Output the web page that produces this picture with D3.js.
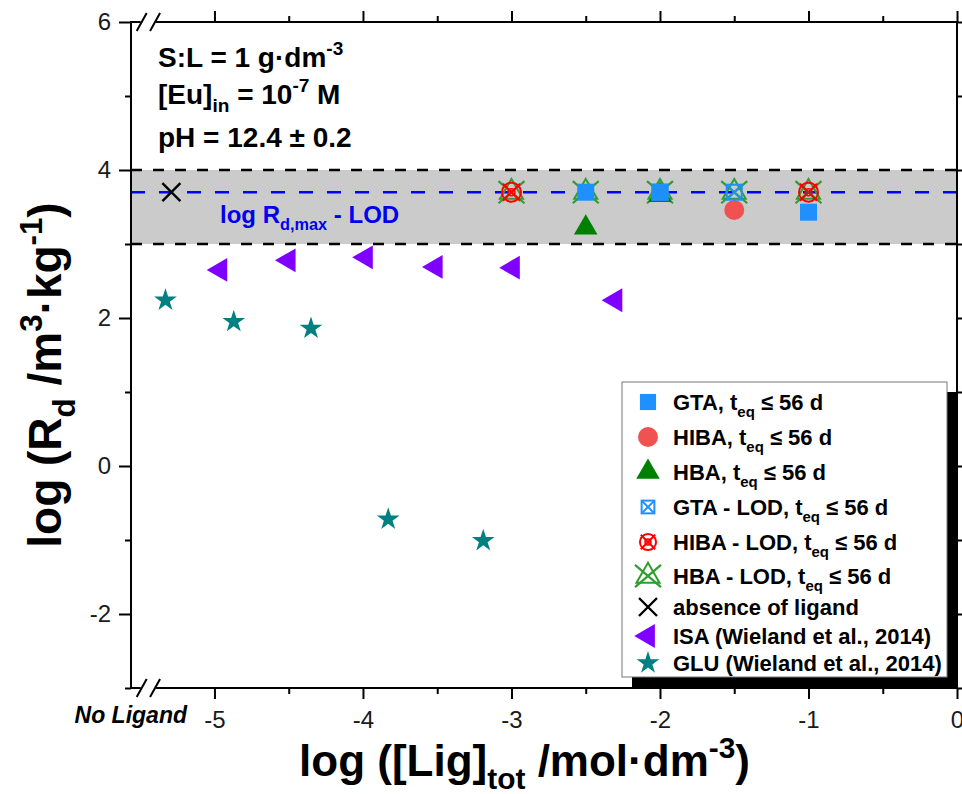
<!DOCTYPE html>
<html>
<head>
<meta charset="utf-8">
<script src="https://cdn.jsdelivr.net/npm/d3@7/dist/d3.min.js"></script>
<style>
  html, body { margin: 0; padding: 0; background: #fff; }
  svg { display: block; }
</style>
</head>
<body>
<svg id="chart" width="962" height="794"></svg>
<script>
// ---- data -------------------------------------------------------------
const xTicksMajor = [-5, -4, -3, -2, -1, 0];
const xTicksMinor = [-4.5, -3.5, -2.5, -1.5, -0.5];
const yTicksMajor = [6, 4, 2, 0, -2];
const yTicksMinor = [5, 3, 1, -1, -3];
const noLigandLabel = "No Ligand";

// LOD band limits and log Rd,max - LOD
const bandLow = 3.0, bandHigh = 4.0, rdMaxLod = 3.70;

// Eu sorption, t_eq <= 56 d
const gtaX = [-2.5, -2, -1];            const gtaY = [3.70, 3.70, 3.43];
const hibaX = [-1.5];                   const hibaY = [3.46];
const hbaX = [-2.5, -2];                const hbaY = [3.22, 3.66];
const gtaLodX = [-2, -1.5];             const gtaLodY = [3.70, 3.70];
const hibaLodX = [-3, -1];              const hibaLodY = [3.70, 3.70];
const hbaLodX = [-3, -2.5, -2, -1.5, -1]; const hbaLodY = [3.70, 3.70, 3.70, 3.70, 3.70];
const noLigandX = [-5.29];              const noLigandY = [3.70];
// Wieland et al., 2014
const isaX = [-4.96, -4.50, -3.98, -3.51, -2.99, -2.30];
const isaY = [2.65, 2.78, 2.82, 2.69, 2.68, 2.24];
const gluX = [-5.33, -4.87, -4.35, -3.83, -3.19];
const gluY = [2.24, 1.95, 1.86, -0.72, -1.01];

const legendLabels = [
  [["GTA, t"], ["eq", "sub"], [" \u2264 56 d"]],
  [["HIBA, t"], ["eq", "sub"], [" \u2264 56 d"]],
  [["HBA, t"], ["eq", "sub"], [" \u2264 56 d"]],
  [["GTA - LOD, t"], ["eq", "sub"], [" \u2264 56 d"]],
  [["HIBA - LOD, t"], ["eq", "sub"], [" \u2264 56 d"]],
  [["HBA - LOD, t"], ["eq", "sub"], [" \u2264 56 d"]],
  [["absence of ligand"]],
  [["ISA (Wieland et al., 2014)"]],
  [["GLU (Wieland et al., 2014)"]]
];

// ---- setup ------------------------------------------------------------
const FONT = "'Liberation Sans', Arial, Helvetica, sans-serif";
const svg = d3.select("#chart");
const P = { left: 131, right: 957, top: 22, bottom: 688 };
const x = d3.scaleLinear().domain([-5.562, 0]).range([P.left, P.right]);
const y = d3.scaleLinear().domain([-3, 6]).range([P.bottom, P.top]);

const C = {
  gta: "#1E90FF", hiba: "#F05252", hba: "#008000",
  gtaLod: "#1E90FF", hibaLod: "#FF0000", hbaLod: "#2E9E2E",
  none: "#000000", isa: "#8000FF", glu: "#008080"
};

// rich text with sub/superscripts
function rich(sel, parts, fs) {
  let shift = 0;
  parts.forEach(([t, kind]) => {
    const target = kind === "sub" ? fs * 0.30 : kind === "sup" ? -fs * 0.42 : 0;
    sel.append("tspan")
      .attr("dy", target - shift)
      .attr("font-size", kind ? fs * 0.68 : fs)
      .text(t);
    shift = target;
  });
}

// ---- background band & reference lines ----------------------------------
const plot = svg.append("g");
plot.append("rect")
  .attr("x", P.left).attr("y", y(bandHigh))
  .attr("width", P.right - P.left).attr("height", y(bandLow) - y(bandHigh))
  .attr("fill", "#CBCBCB");
[bandHigh, bandLow].forEach(v => {
  plot.append("line")
    .attr("x1", P.left).attr("x2", P.right)
    .attr("y1", y(v)).attr("y2", y(v))
    .attr("stroke", "#000").attr("stroke-width", 2.6)
    .attr("stroke-dasharray", "11,11");
});
plot.append("line")
  .attr("x1", P.left).attr("x2", P.right)
  .attr("y1", y(rdMaxLod)).attr("y2", y(rdMaxLod))
  .attr("stroke", "#0000FF").attr("stroke-width", 2.6)
  .attr("stroke-dasharray", "14,14");

svg.append("text")
  .attr("x", 220).attr("y", 223)
  .attr("font-family", FONT).attr("font-weight", "bold")
  .attr("fill", "#0000EE")
  .call(rich, [["log R"], ["d,max", "sub"], [" - LOD"]], 24);

// ---- markers ----------------------------------------------------------
function marker(g, kind, cx, cy, k = 1) {
  const t = g.append("g").attr("transform", `translate(${cx},${cy})`);
  switch (kind) {
    case "gta":
      t.append("path").attr("d", d3.symbol(d3.symbolSquare, 289 * k * k)()).attr("fill", C.gta);
      break;
    case "hiba":
      t.append("circle").attr("r", 10 * k).attr("fill", C.hiba);
      break;
    case "hba":
      t.append("path").attr("d", d3.symbol(d3.symbolTriangle, 240 * k * k)()).attr("fill", C.hba);
      break;
    case "gtaLod": {
      const h = 7.5 * k;
      t.append("rect").attr("x", -h).attr("y", -h).attr("width", 2 * h).attr("height", 2 * h)
        .attr("fill", "#fff").attr("fill-opacity", k < 1 ? 1 : 0)
        .attr("stroke", C.gtaLod).attr("stroke-width", 2);
      t.append("path").attr("d", `M${-h},${-h}L${h},${h}M${-h},${h}L${h},${-h}`)
        .attr("stroke", C.gtaLod).attr("stroke-width", 2);
      break;
    }
    case "hibaLod": {
      const r = 9.5 * k, a = 8.5 * k;
      t.append("circle").attr("r", r).attr("fill", "none").attr("stroke", C.hibaLod).attr("stroke-width", 2);
      t.append("circle").attr("r", 3.5 * k).attr("fill", "none").attr("stroke", C.hibaLod).attr("stroke-width", 1.6);
      t.append("path").attr("d", `M${-a},${-a}L${a},${a}M${-a},${a}L${a},${-a}`)
        .attr("stroke", C.hibaLod).attr("stroke-width", 2);
      break;
    }
    case "hbaLod": {
      const s = 13 * k;
      t.append("path").attr("d", d3.symbol(d3.symbolTriangle, 230 * k * k)())
        .attr("fill", "none").attr("stroke", C.hbaLod).attr("stroke-width", 2);
      t.append("path").attr("d", `M${-s},${-s * 0.85}L${s},${s * 0.85}M${-s},${s * 0.85}L${s},${-s * 0.85}`)
        .attr("stroke", C.hbaLod).attr("stroke-width", 2.2);
      break;
    }
    case "none": {
      const a = 9 * k;
      t.append("path").attr("d", `M${-a},${-a}L${a},${a}M${-a},${a}L${a},${-a}`)
        .attr("stroke", C.none).attr("stroke-width", 2.4);
      break;
    }
    case "isa":
      t.append("path").attr("d", d3.symbol(d3.symbolTriangle, 245 * k * k)())
        .attr("transform", "rotate(-90)").attr("fill", C.isa);
      break;
    case "glu":
      t.append("path").attr("d", d3.symbol(d3.symbolStar, 160 * k * k)()).attr("fill", C.glu);
      break;
  }
}

const series = [
  ["hbaLod", hbaLodX, hbaLodY],
  ["hba", hbaX, hbaY],
  ["gta", gtaX, gtaY],
  ["hiba", hibaX, hibaY],
  ["gtaLod", gtaLodX, gtaLodY],
  ["hibaLod", hibaLodX, hibaLodY],
  ["none", noLigandX, noLigandY],
  ["isa", isaX, isaY],
  ["glu", gluX, gluY]
];
const marks = svg.append("g");
series.forEach(([kind, xs, ys]) => {
  xs.forEach((xv, i) => marker(marks, kind, x(xv), y(ys[i])));
});

// ---- axes -------------------------------------------------------------
const axes = svg.append("g").attr("font-family", FONT);
const breakA = x(-5.49), breakB = x(-5.40);

function styleTicks(sel) {
  sel.select(".domain").remove();
  sel.selectAll(".tick line").attr("stroke", "#000").attr("stroke-width", 2);
  sel.selectAll(".tick text").attr("font-size", 24).attr("fill", "#1a1a1a").attr("font-family", FONT);
}
const minus = d => d < 0 ? "-" + Math.abs(d) : String(d);

// bottom
axes.append("g").attr("transform", `translate(0,${P.bottom})`)
  .call(d3.axisBottom(x).tickValues(xTicksMajor).tickSize(11).tickPadding(12).tickFormat(minus))
  .call(styleTicks);
axes.append("g").attr("transform", `translate(0,${P.bottom})`)
  .call(d3.axisBottom(x).tickValues(xTicksMinor).tickSize(6).tickFormat(""))
  .call(styleTicks);

// top
axes.append("g").attr("transform", `translate(0,${P.top})`)
  .call(d3.axisTop(x).tickValues(xTicksMajor).tickSize(11).tickFormat(""))
  .call(styleTicks);
axes.append("g").attr("transform", `translate(0,${P.top})`)
  .call(d3.axisTop(x).tickValues(xTicksMinor).tickSize(6).tickFormat(""))
  .call(styleTicks);

// left
axes.append("g").attr("transform", `translate(${P.left},0)`)
  .call(d3.axisLeft(y).tickValues(yTicksMajor).tickSize(12).tickPadding(8).tickFormat(minus))
  .call(styleTicks);
axes.append("g").attr("transform", `translate(${P.left},0)`)
  .call(d3.axisLeft(y).tickValues(yTicksMinor).tickSize(6).tickFormat(""))
  .call(styleTicks);

// right
axes.append("g").attr("transform", `translate(${P.right},0)`)
  .call(d3.axisRight(y).tickValues(yTicksMajor).tickSize(11).tickFormat(""))
  .call(styleTicks);
axes.append("g").attr("transform", `translate(${P.right},0)`)
  .call(d3.axisRight(y).tickValues(yTicksMinor).tickSize(6).tickFormat(""))
  .call(styleTicks);

// frame with axis breaks on top and bottom
const frame = d3.path();
[P.top, P.bottom].forEach(yy => {
  frame.moveTo(P.left - 1, yy); frame.lineTo(breakA - 1, yy);
  frame.moveTo(breakB + 1, yy); frame.lineTo(P.right + 1, yy);
});
frame.moveTo(P.left, P.top); frame.lineTo(P.left, P.bottom);
frame.moveTo(P.right, P.top); frame.lineTo(P.right, P.bottom);
axes.append("path").attr("d", frame.toString()).attr("fill", "none").attr("stroke", "#000").attr("stroke-width", 2);
const slashes = d3.path();
[P.top, P.bottom].forEach(yy => {
  [breakA, breakB].forEach(bx => {
    slashes.moveTo(bx - 5, yy + 9); slashes.lineTo(bx + 5, yy - 9);
  });
});
axes.append("path").attr("d", slashes.toString()).attr("fill", "none").attr("stroke", "#000").attr("stroke-width", 2);

axes.append("text")
  .attr("x", 187).attr("y", 723).attr("text-anchor", "end")
  .attr("font-size", 23).attr("font-weight", "bold").attr("font-style", "italic")
  .attr("fill", "#000").text(noLigandLabel);

// axis titles
svg.append("text")
  .attr("x", 750).attr("y", 776).attr("text-anchor", "end")
  .attr("font-family", FONT).attr("font-weight", "bold").attr("fill", "#000")
  .call(rich, [["log ([Lig]"], ["tot", "sub"], [" /mol\u00B7dm"], ["-3", "sup"], [")"]], 44);

svg.append("text")
  .attr("transform", "translate(61,375) rotate(-90)").attr("text-anchor", "middle")
  .attr("font-family", FONT).attr("font-weight", "bold").attr("fill", "#000")
  .call(rich, [["log (R"], ["d", "sub"], [" /m"], ["3", "sup"], ["\u00B7kg"], ["-1", "sup"], [")"]], 46);

// conditions
const cond = svg.append("g").attr("font-family", FONT).attr("font-weight", "bold").attr("fill", "#000");
cond.append("text").attr("x", 158).attr("y", 67).call(rich, [["S:L = 1 g\u00B7dm"], ["-3", "sup"]], 28);
cond.append("text").attr("x", 158).attr("y", 104).call(rich, [["[Eu]"], ["in", "sub"], [" = 10"], ["-7", "sup"], [" M"]], 28);
cond.append("text").attr("x", 158).attr("y", 147).call(rich, [["pH = 12.4 \u00B1 0.2"]], 28);

// ---- legend -----------------------------------------------------------
const L = { x: 622, y: 382, w: 325, h: 295, shadow: 10 };
const leg = svg.append("g");
leg.append("rect").attr("x", L.x + L.shadow).attr("y", L.y + L.shadow)
  .attr("width", L.w).attr("height", L.h).attr("fill", "#000");
leg.append("rect").attr("x", L.x).attr("y", L.y).attr("width", L.w).attr("height", L.h)
  .attr("fill", "#fff").attr("stroke", "#777").attr("stroke-width", 1);
const rowY = [402, 437, 472, 507, 542, 576, 607, 636, 663];
const legKinds = ["gta", "hiba", "hba", "gtaLod", "hibaLod", "hbaLod", "none", "isa", "glu"];
const legScale = [0.95, 1, 1, 0.85, 0.85, 1, 1, 1, 1];
legKinds.forEach((k, i) => {
  marker(leg, k, 648, rowY[i], legScale[i]);
  leg.append("text").attr("x", 673).attr("y", rowY[i] + 8)
    .attr("font-family", FONT).attr("font-weight", "bold").attr("fill", "#000")
    .call(rich, legendLabels[i], 22);
});
</script>
</body>
</html>
